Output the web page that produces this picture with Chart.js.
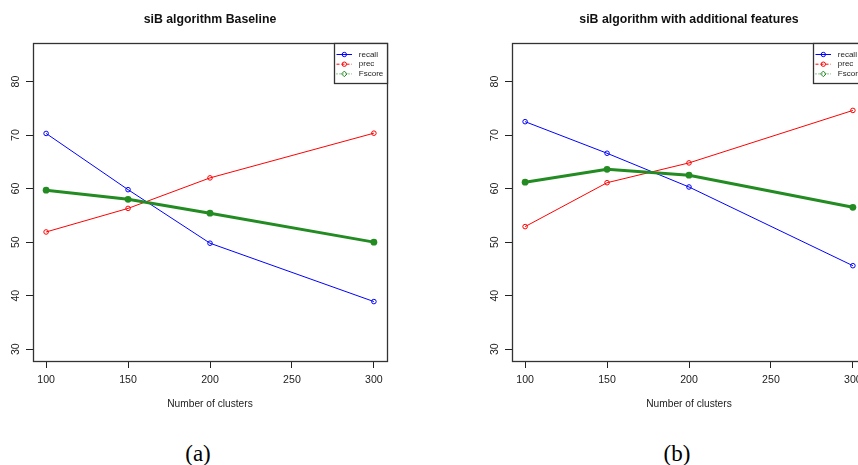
<!DOCTYPE html>
<html><head><meta charset="utf-8">
<script src="https://cdn.jsdelivr.net/npm/chart.js@4"></script>
<style>
html,body{margin:0;padding:0;background:#fff;overflow:hidden}
#wrap{position:relative;width:858px;height:465px;overflow:hidden;background:#fff}
canvas{position:absolute;top:0}
.cap{position:absolute;top:453px;font-family:"Liberation Serif",serif;font-size:23px;line-height:23px;color:#000;transform:translate(-50%,-50%);white-space:nowrap}
</style></head><body>
<div id="wrap">
<canvas id="c1" width="430" height="420" style="left:0"></canvas>
<canvas id="c2" width="430" height="420" style="left:479px"></canvas>
<div class="cap" style="left:198px">(a)</div>
<div class="cap" style="left:677px">(b)</div>
</div>
<script>
const clusters = [100, 150, 200, 300];
const xTicks = [100, 150, 200, 250, 300];
const yTicks = [30, 40, 50, 60, 70, 80];
const baseRecall = [70.3, 59.8, 49.8, 38.9];
const basePrec = [51.9, 56.3, 62.0, 70.35];
const baseF = [59.7, 58.0, 55.4, 50.0];
const featRecall = [72.5, 66.6, 60.3, 45.6];
const featPrec = [52.9, 61.1, 64.8, 74.6];
const featF = [61.2, 63.6, 62.5, 56.5];
const seriesNames = ['recall', 'prec', 'Fscore'];
const titles = ['siB algorithm Baseline', 'siB algorithm with additional features'];
const xTitle = 'Number of clusters';

const colors = ['#0000FF', '#FF0000', '#228B22'];
const legendDash = [[], [3, 2], [1, 2]];
const legendMarker = ['circle', 'circle', 'diamond'];
const FONT = '"Liberation Sans", Arial, sans-serif';

const boxPlugin = {
  id: 'rbox',
  afterDraw(chart) {
    const {ctx, chartArea: a} = chart;
    ctx.save();
    ctx.strokeStyle = '#333';
    ctx.lineWidth = 1.3;
    ctx.strokeRect(Math.round(a.left) + 0.5, Math.round(a.top) + 0.5, Math.round(a.right - a.left), Math.round(a.bottom - a.top));
    // legend
    const w = 53, h = 40;
    const lx = Math.round(a.right - w) + 0.5, ly = Math.round(a.top) + 0.5;
    ctx.fillStyle = '#fff';
    ctx.fillRect(lx, ly, w, h);
    ctx.strokeRect(lx, ly, w, h);
    chart.data.datasets.forEach((ds, i) => {
      const yy = ly + 11 + i * 9.7;
      ctx.strokeStyle = colors[i];
      ctx.lineWidth = 1;
      ctx.setLineDash(legendDash[i]);
      ctx.beginPath(); ctx.moveTo(lx + 2, yy); ctx.lineTo(lx + 17.5, yy); ctx.stroke();
      ctx.setLineDash([]);
      const mx = lx + 9.8;
      ctx.beginPath();
      if (legendMarker[i] === 'diamond') {
        ctx.moveTo(mx, yy - 2.8); ctx.lineTo(mx + 2.8, yy); ctx.lineTo(mx, yy + 2.8); ctx.lineTo(mx - 2.8, yy); ctx.closePath();
      } else {
        ctx.arc(mx, yy, 2.2, 0, Math.PI * 2);
      }
      ctx.stroke();
      ctx.fillStyle = '#222';
      ctx.font = '8px ' + FONT;
      ctx.textBaseline = 'middle';
      ctx.textAlign = 'left';
      ctx.fillText(ds.label, lx + 24.3, yy);
    });
    ctx.restore();
  }
};

function pts(vals) { return clusters.map((c, i) => ({x: c, y: vals[i]})); }

function makeChart(id, title, recall, prec, f) {
  const tickGrid = {display: true, drawOnChartArea: false, drawTicks: true, tickLength: 7, color: '#222', lineWidth: 1};
  new Chart(document.getElementById(id), {
    type: 'line',
    data: {
      datasets: [
        {label: seriesNames[0], data: pts(recall), borderColor: colors[0], borderWidth: 1, pointStyle: 'circle', pointRadius: 2.3, pointBorderWidth: 1, pointBackgroundColor: 'rgba(0,0,0,0)', pointBorderColor: colors[0], tension: 0, order: 2},
        {label: seriesNames[1], data: pts(prec), borderColor: colors[1], borderWidth: 1, pointStyle: 'circle', pointRadius: 2.3, pointBorderWidth: 1, pointBackgroundColor: 'rgba(0,0,0,0)', pointBorderColor: colors[1], tension: 0, order: 1},
        {label: seriesNames[2], data: pts(f), borderColor: colors[2], borderWidth: 3, pointStyle: 'circle', pointRadius: 3.4, pointBorderWidth: 0, pointBackgroundColor: colors[2], pointBorderColor: colors[2], tension: 0, order: 0}
      ]
    },
    options: {
      responsive: false, animation: false, devicePixelRatio: 1,
      layout: {padding: {left: 0, right: 43, top: 0, bottom: 10}},
      plugins: {
        legend: {display: false}, tooltip: {enabled: false},
        title: {display: true, text: title, fullSize: false, color: '#111',
          font: {family: FONT, size: 12.3, weight: 'bold', lineHeight: 1.2},
          padding: {top: 12, bottom: 16.2}}
      },
      scales: {
        x: {
          type: 'linear', min: 92, max: 308,
          afterBuildTicks: s => { s.ticks = xTicks.map(v => ({value: v})); },
          afterFit: s => { s.height = 49; },
          grid: tickGrid, border: {display: false},
          ticks: {autoSkip: false, minRotation: 0, maxRotation: 0, padding: 5.5, color: '#222', font: {family: FONT, size: 10.6}},
          title: {display: true, text: xTitle, color: '#222', font: {family: FONT, size: 10.2, lineHeight: 1.2}, padding: {top: 0, bottom: 0}}
        },
        y: {
          type: 'linear', min: 27.8, max: 87.2,
          afterBuildTicks: s => { s.ticks = yTicks.map(v => ({value: v})); },
          afterFit: s => { s.width = 33; },
          grid: tickGrid, border: {display: false},
          ticks: {autoSkip: false, minRotation: 90, maxRotation: 90, crossAlign: 'center', padding: 4.5, color: '#222', font: {family: FONT, size: 10.6}}
        }
      }
    },
    plugins: [boxPlugin]
  });
}

makeChart('c1', titles[0], baseRecall, basePrec, baseF);
makeChart('c2', titles[1], featRecall, featPrec, featF);
</script>
</body></html>
